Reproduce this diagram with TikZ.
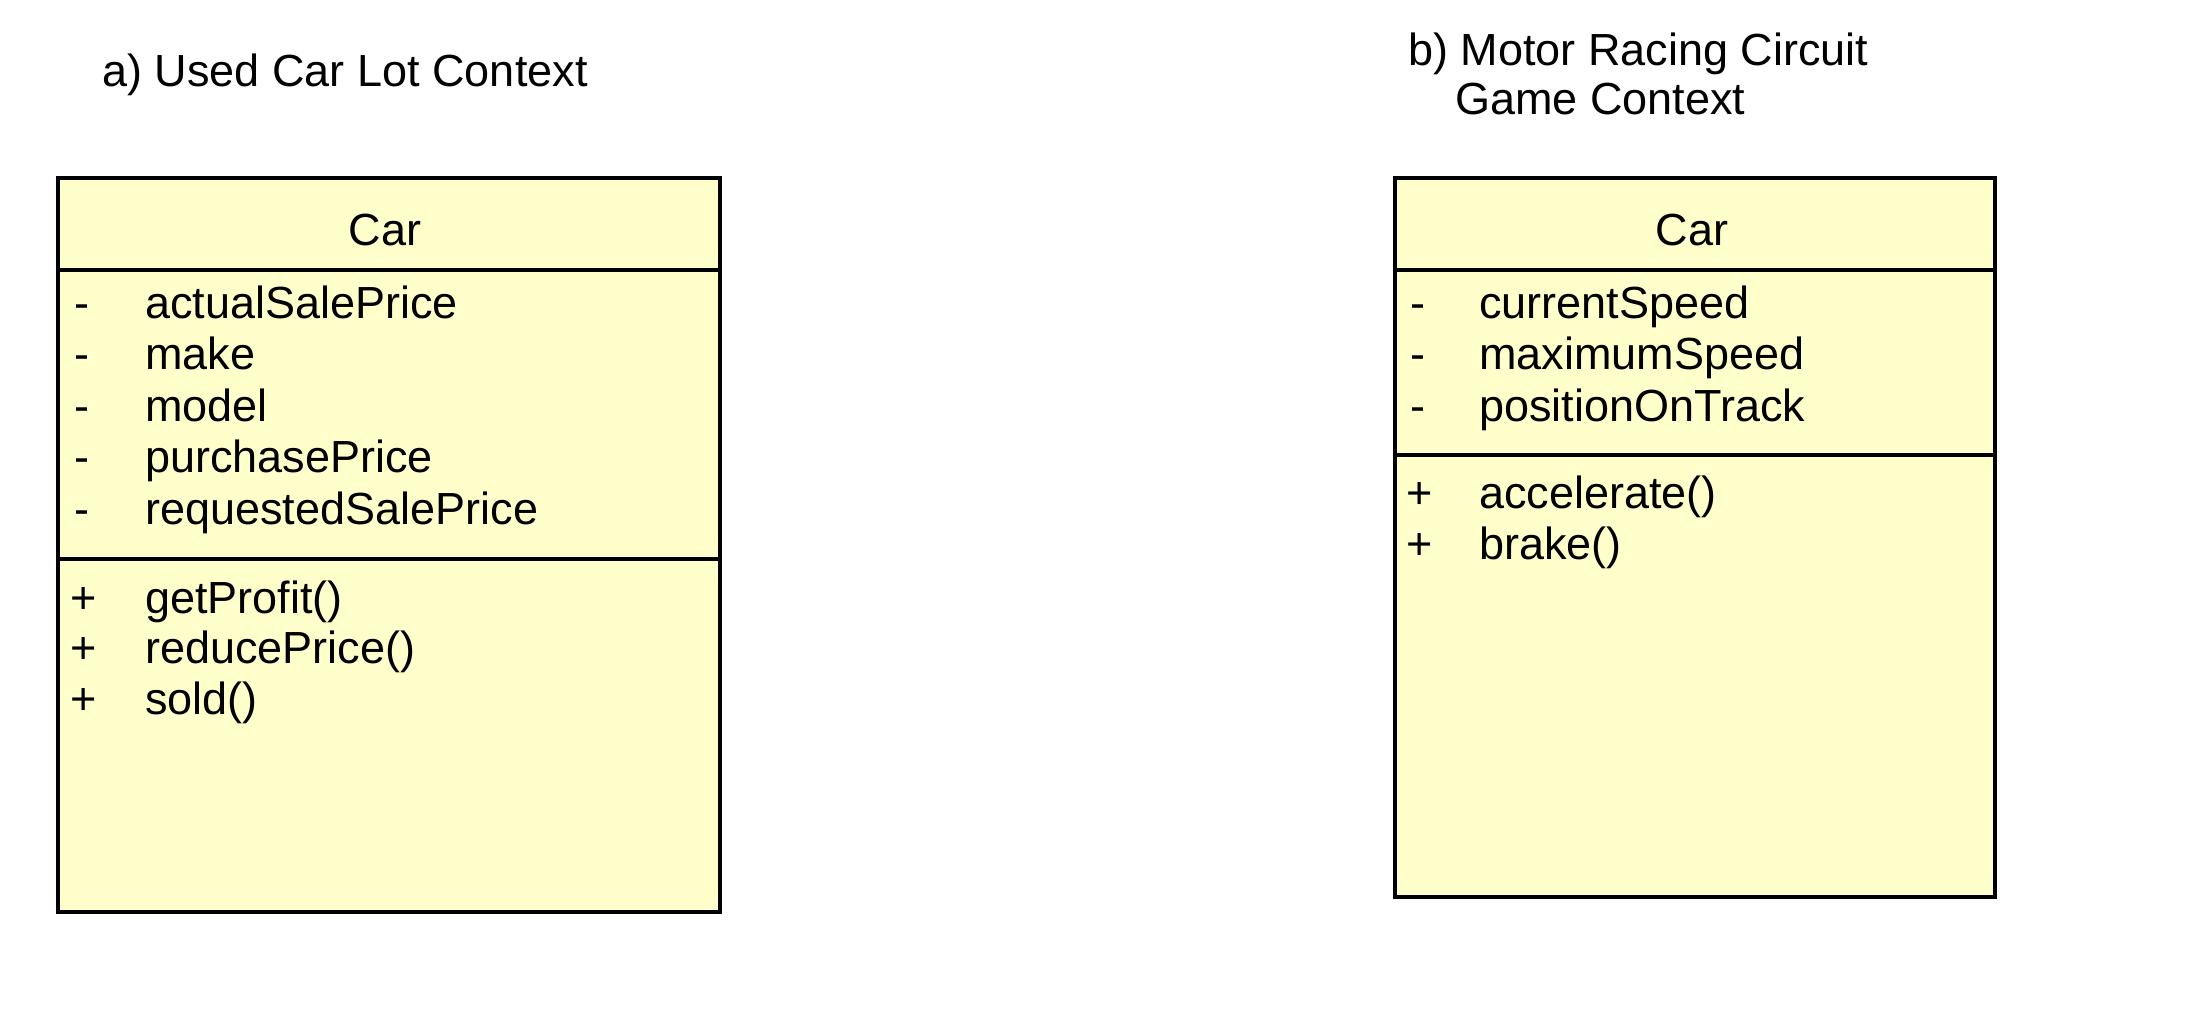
\documentclass[tikz,border=0pt]{standalone}
\usepackage{fontspec}
\setmainfont{Liberation Sans}
\usetikzlibrary{positioning}
\definecolor{classfill}{RGB}{255,255,204}

\begin{document}
\begin{tikzpicture}[x=.5pt,y=-.5pt,
  classbox/.style={draw,line width=2pt,fill=classfill,anchor=north west,inner sep=0pt},
  divider/.style={line width=2pt},
  txt/.style={font=\fontsize{22.5}{27}\selectfont,inner sep=0pt,anchor=base west}]
\useasboundingbox (0,0) rectangle (2202,1014);
% a) used car lot
\node[txt] (titlea) at (102,86) {a) Used Car Lot Context};
\node[classbox,minimum width=331pt,minimum height=367pt] (lot) at (56,176) {};
\draw[divider] (lot.west |- 0,270) -- (lot.east |- 0,270);
\draw[divider] (lot.west |- 0,559) -- (lot.east |- 0,559);
\node[txt,anchor=base] (lotname) at (385,245) {Car};
\foreach \m [count=\i] in {actualSalePrice,make,model,purchasePrice,requestedSalePrice} {
  \node[txt] (lotvis\i) at (74,{318+51.5*(\i-1)}) {-};
  \node[txt] (lotatt\i) at (145,{318+51.5*(\i-1)}) {\m};
}
\foreach \m [count=\i] in {getProfit(),reducePrice(),sold()} {
  \node[txt] (lotopv\i) at (70,{613+50.5*(\i-1)}) {+};
  \node[txt] (lotop\i) at (145,{613+50.5*(\i-1)}) {\m};
}
% b) motor racing game
\node[txt] (titleb) at (1408,65) {b) Motor Racing Circuit};
\node[txt] (titleb2) at (1455,114) {Game Context};
\node[classbox,minimum width=300pt,minimum height=359.5pt] (race) at (1393,176) {};
\draw[divider] (race.west |- 0,270) -- (race.east |- 0,270);
\draw[divider] (race.west |- 0,455) -- (race.east |- 0,455);
\node[txt,anchor=base] (racename) at (1692,245) {Car};
\foreach \m [count=\i] in {currentSpeed,maximumSpeed,positionOnTrack} {
  \node[txt] (racevis\i) at (1410,{318+51.5*(\i-1)}) {-};
  \node[txt] (raceatt\i) at (1479,{318+51.5*(\i-1)}) {\m};
}
\foreach \m [count=\i] in {accelerate(),brake()} {
  \node[txt] (raceopv\i) at (1406,{508+51*(\i-1)}) {+};
  \node[txt] (raceop\i) at (1479,{508+51*(\i-1)}) {\m};
}
\end{tikzpicture}
\end{document}
